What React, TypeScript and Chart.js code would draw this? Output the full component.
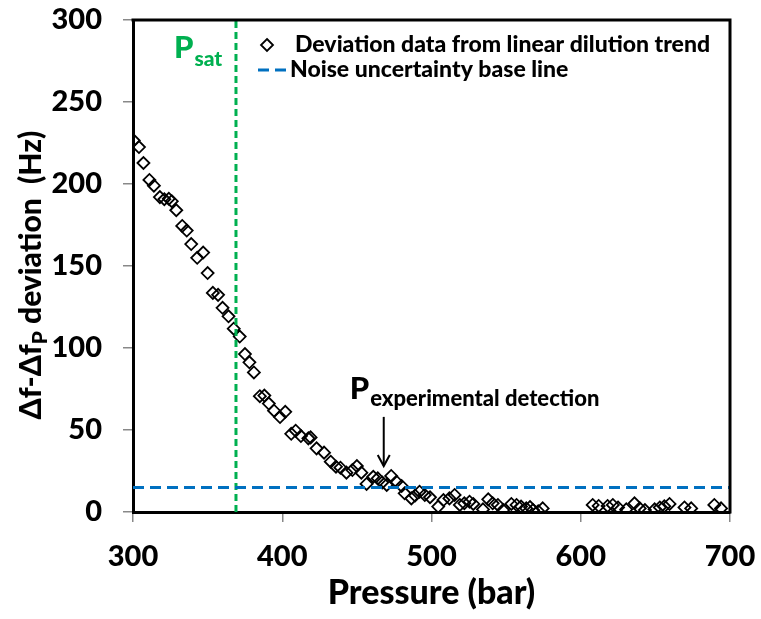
import React, { useEffect, useRef } from 'react';
import { Chart, registerables } from 'chart.js';

Chart.register(...registerables);

// ---- data ----
const pressure = [
  300.5, 304, 307, 311, 314, 318, 321, 324, 326, 329, 333, 336, 339, 343, 347, 350, 353.5, 357, 360, 364,
  367.5, 371.5, 375, 378, 381, 385, 388, 391, 394.5, 398.5, 402, 406, 409, 412.5, 417.5, 419, 423, 428, 432.5, 436,
  439, 443, 447, 450, 453, 456.5, 461, 464, 467, 470, 473, 476.5, 480, 482, 486.5, 489, 492, 495.5, 499, 504.5,
  508, 512, 515.5, 519, 522, 525.5, 528, 534.5, 538, 541, 544.5, 548, 553.5, 557, 560, 563.5, 566, 568, 571.5, 574.5,
  608, 612, 618, 621.5, 625, 630.5, 636, 639.5, 643, 649.5, 653, 656, 659.5, 669.5, 674, 689.5, 694,
];
const deviation = [
  226.5, 222.5, 212.8, 202.5, 199, 192, 190.7, 191, 189.5, 184, 174.4, 171.6, 163.4, 155, 158.2, 145.7, 133.6, 132.4, 124.5, 119.3,
  111.8, 107, 96.3, 91.3, 85.1, 70.6, 71, 66.1, 61.8, 57.9, 61.1, 47.7, 49.6, 46.3, 44.9, 45.5, 38.8, 36.2, 30.7, 27.6,
  27, 24, 25.6, 28, 24, 17.1, 21.5, 20.5, 18, 16.5, 22, 18.5, 15.9, 11.4, 8.3, 10, 12.4, 10.4, 9, 3.3,
  7.3, 8.3, 10.4, 4.3, 5.3, 6.3, 4.9, 1.6, 7.7, 5.3, 4.3, 1.2, 4.9, 4.3, 3.3, 2.2, 3, 1.2, 0.5, 2.2,
  4.3, 3.7, 3.7, 4.3, 2.8, 1.6, 5.3, 2.2, 1.2, 1.6, 2.8, 3.5, 4.9, 2.8, 2.2, 4.3, 2.2,
];
const noiseLevel = 15;
const psatPressure = 369;
const detectionPressure = 468;
const xTicks = [300, 400, 500, 600, 700];
const yTicks = [0, 50, 100, 150, 200, 250, 300];
const xRange = [300, 700];
const yRange = [0, 300];

const seriesLabel = 'Deviation data from linear dilution trend';
const noiseLabel = 'Noise uncertainty base line';
const xTitle = 'Pressure (bar)';

const FONT = 'Lato';
const W = '900';
const GREEN = '#00B050';
const BLUE = '#0070C0';

function drawDiamond(ctx: CanvasRenderingContext2D, cx: number, cy: number, r: number) {
  ctx.beginPath();
  ctx.moveTo(cx, cy - r);
  ctx.lineTo(cx + r, cy);
  ctx.lineTo(cx, cy + r);
  ctx.lineTo(cx - r, cy);
  ctx.closePath();
  ctx.stroke();
}

const annotationPlugin = {
  id: 'annotations',
  afterDraw(chart: any) {
    const { ctx, chartArea: ca, scales } = chart;
    const xs = scales.x;
    const ys = scales.y;
    ctx.save();

    // top and right frame
    ctx.strokeStyle = '#000';
    ctx.lineWidth = 3;
    ctx.setLineDash([]);
    ctx.beginPath();
    ctx.moveTo(ca.left - 1.5, ca.top);
    ctx.lineTo(ca.right, ca.top);
    ctx.lineTo(ca.right, ca.bottom + 1.5);
    ctx.stroke();

    ctx.textAlign = 'left';
    ctx.textBaseline = 'alphabetic';

    // P_sat label
    const gx = xs.getPixelForValue(psatPressure);
    ctx.fillStyle = GREEN;
    ctx.font = `${W} 31px ${FONT}`;
    const pw = ctx.measureText('P').width;
    const px0 = gx - 62;
    ctx.fillText('P', px0, 58);
    ctx.font = `${W} 21px ${FONT}`;
    ctx.fillText('sat', px0 + pw + 1, 66);

    // P_experimental detection label + arrow
    const ax = xs.getPixelForValue(detectionPressure);
    ctx.fillStyle = '#000';
    ctx.font = `${W} 31px ${FONT}`;
    const pw2 = ctx.measureText('P').width;
    const lx = ax - 34;
    ctx.fillText('P', lx, 399);
    ctx.font = `${W} 22px ${FONT}`;
    ctx.fillText('experimental detection', lx + pw2 + 1, 406);

    const ay0 = ys.getPixelForValue(58);
    const ay1 = ys.getPixelForValue(28);
    ctx.strokeStyle = '#000';
    ctx.lineWidth = 2;
    ctx.beginPath();
    ctx.moveTo(ax, ay0);
    ctx.lineTo(ax, ay1);
    ctx.stroke();
    ctx.beginPath();
    ctx.moveTo(ax - 6, ay1 - 11);
    ctx.lineTo(ax, ay1);
    ctx.lineTo(ax + 6, ay1 - 11);
    ctx.stroke();

    // legend
    ctx.lineWidth = 1.8;
    ctx.strokeStyle = '#000';
    drawDiamond(ctx, 267, 45, 6);
    ctx.font = `${W} 23px ${FONT}`;
    ctx.fillStyle = '#000';
    ctx.fillText(seriesLabel, 295, 52);
    ctx.strokeStyle = BLUE;
    ctx.lineWidth = 3;
    ctx.setLineDash([11, 6]);
    ctx.beginPath();
    ctx.moveTo(258, 70);
    ctx.lineTo(289, 70);
    ctx.stroke();
    ctx.setLineDash([]);
    ctx.fillText(noiseLabel, 290, 77);

    // x title
    ctx.font = `${W} 34px ${FONT}`;
    ctx.textAlign = 'center';
    ctx.fillText(xTitle, (ca.left + ca.right) / 2, 604);

    // y title (rotated, with subscript)
    ctx.textAlign = 'left';
    const partA = '\u0394f-\u0394f';
    const partB = 'P';
    const partC = ' deviation  (Hz)';
    ctx.font = `${W} 30px ${FONT}`;
    const wA = ctx.measureText(partA).width;
    const wC = ctx.measureText(partC).width;
    ctx.font = `${W} 21px ${FONT}`;
    const wB = ctx.measureText(partB).width;
    const total = wA + wB + wC;
    const cy = 275;
    const baseX = 41;
    ctx.translate(baseX, cy);
    ctx.rotate(-Math.PI / 2);
    let tx = -total / 2;
    ctx.font = `${W} 30px ${FONT}`;
    ctx.fillText(partA, tx, 0);
    tx += wA;
    ctx.font = `${W} 21px ${FONT}`;
    ctx.fillText(partB, tx, 6);
    tx += wB;
    ctx.font = `${W} 30px ${FONT}`;
    ctx.fillText(partC, tx, 0);

    ctx.restore();
  },
};

export default function App() {
  const ref = useRef<HTMLCanvasElement | null>(null);

  useEffect(() => {
    const canvas = ref.current;
    if (!canvas) return;
    const points = pressure.map((p, i) => ({ x: p, y: deviation[i] }));
    const chart = new Chart(canvas, {
      type: 'scatter',
      data: {
        datasets: [
          {
            label: noiseLabel,
            data: [
              { x: xRange[0], y: noiseLevel },
              { x: xRange[1], y: noiseLevel },
            ],
            showLine: true,
            borderColor: BLUE,
            borderWidth: 3,
            borderDash: [11, 6],
            pointRadius: 0,
            fill: false,
          },
          {
            label: 'Psat',
            data: [
              { x: psatPressure, y: yRange[0] },
              { x: psatPressure, y: yRange[1] },
            ],
            showLine: true,
            borderColor: GREEN,
            borderWidth: 3,
            borderDash: [7, 4],
            pointRadius: 0,
            fill: false,
          },
          {
            label: seriesLabel,
            data: points,
            pointStyle: 'rectRot',
            pointRadius: 6,
            pointBorderWidth: 1.8,
            pointBorderColor: '#000',
            pointBackgroundColor: 'rgba(0,0,0,0)',
            showLine: false,
          },
        ],
      },
      options: {
        animation: false,
        responsive: false,
        devicePixelRatio: 1,
        layout: { padding: { left: 0, right: 31, top: 20, bottom: 0 } },
        plugins: {
          legend: { display: false },
          tooltip: { enabled: false },
        },
        scales: {
          x: {
            type: 'linear',
            min: xRange[0],
            max: xRange[1],
            afterBuildTicks: (s: any) => {
              s.ticks = xTicks.map((v) => ({ value: v }));
            },
            ticks: {
              font: { family: FONT, size: 29, weight: W },
              color: '#000',
              padding: 17,
              maxRotation: 0,
            },
            grid: { drawOnChartArea: false, drawTicks: true, tickLength: 10, color: '#888', lineWidth: 1.5 },
            border: { display: true, color: '#000', width: 3 },
            afterFit: (s: any) => {
              s.height = 107;
              s.paddingLeft = 0;
              s.paddingRight = 0;
            },
          },
          y: {
            type: 'linear',
            min: yRange[0],
            max: yRange[1],
            afterBuildTicks: (s: any) => {
              s.ticks = yTicks.map((v) => ({ value: v }));
            },
            ticks: {
              font: { family: FONT, size: 29, weight: W },
              color: '#000',
              padding: 21,
            },
            grid: { drawOnChartArea: false, drawTicks: true, tickLength: 10, color: '#888', lineWidth: 1.5 },
            border: { display: true, color: '#000', width: 3 },
            afterFit: (s: any) => {
              s.width = 133;
              s.paddingTop = 0;
              s.paddingBottom = 0;
            },
          },
        },
      },
      plugins: [annotationPlugin],
    });
    return () => chart.destroy();
  }, []);

  return (
    <div style={{ position: 'fixed', left: 0, top: 0, width: 761, height: 619, background: '#fff' }}>
      <canvas ref={ref} width={761} height={619} style={{ width: 761, height: 619, display: 'block' }} />
    </div>
  );
}
